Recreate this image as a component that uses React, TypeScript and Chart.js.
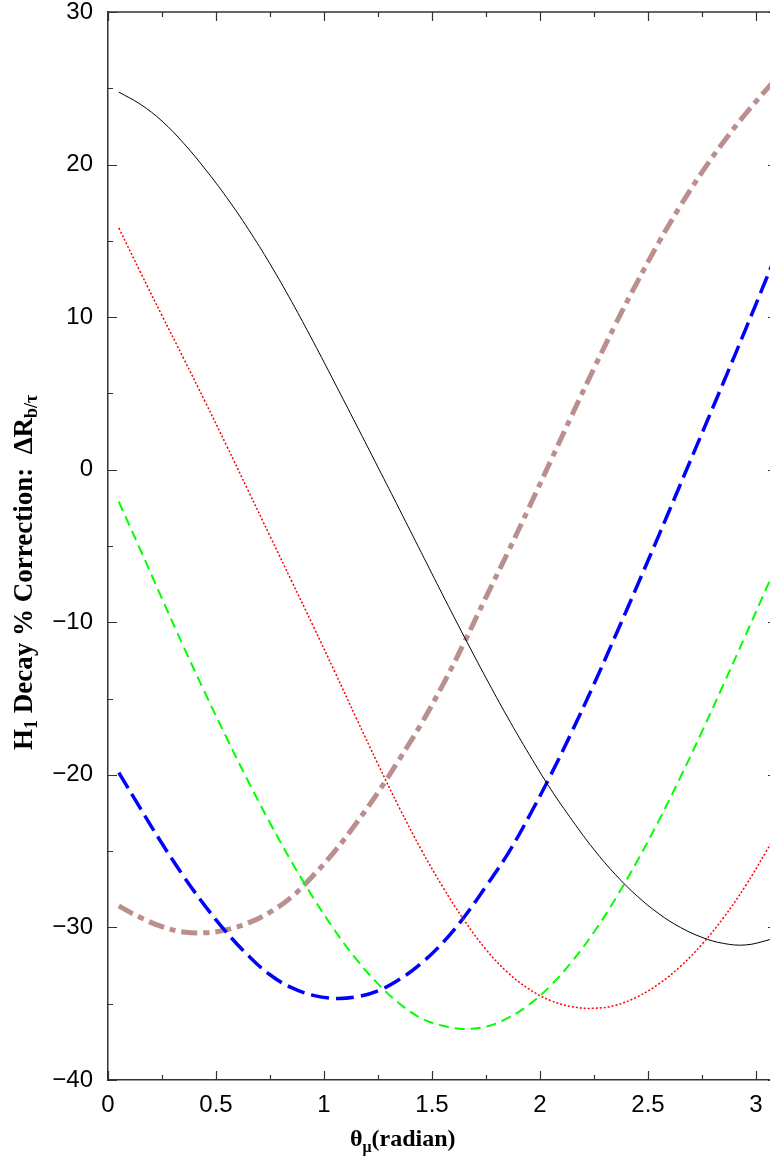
import { useEffect, useRef } from "react";
import { Chart, registerables } from "chart.js";

Chart.register(...registerables);

// theta_mu (radian) sample positions
const thetaValues = [
  0.05, 0.15, 0.25, 0.35, 0.45, 0.55, 0.65, 0.75, 0.85, 0.95,
  1.05, 1.15, 1.25, 1.35, 1.45, 1.55, 1.65, 1.75, 1.85, 1.95,
  2.05, 2.15, 2.25, 2.35, 2.45, 2.55, 2.65, 2.75, 2.85, 2.95,
  3.05, 3.1,
];

// black solid curve
const blackSolid = [
  24.75, 23.95, 22.85, 21.4, 19.7, 17.83, 15.76, 13.49, 11.02, 8.4,
  5.68, 2.93, 0.16, -2.62, -5.42, -8.22, -10.97, -13.65, -16.23, -18.66,
  -20.95, -23.0, -24.9, -26.55, -27.95, -29.1, -30.0, -30.65, -31.05, -31.15,
  -30.85, -30.6,
];

// red dotted curve
const redDotted = [
  15.85, 12.95, 10.1, 7.3, 4.45, 1.55, -1.4, -4.35, -7.3, -10.25,
  -13.25, -16.3, -19.3, -22.2, -24.9, -27.35, -29.55, -31.45, -32.95, -34.05,
  -34.8, -35.2, -35.3, -35.1, -34.55, -33.7, -32.55, -31.1, -29.35, -27.3,
  -24.95, -23.7,
];

// green dashed curve
const greenDashed = [
  -2.1, -5.25, -8.45, -11.6, -14.65, -17.6, -20.45, -23.15, -25.7, -28.05,
  -30.2, -32.1, -33.7, -35.0, -35.95, -36.45, -36.65, -36.5, -35.95, -35.05,
  -33.8, -32.2, -30.3, -28.1, -25.65, -23.0, -20.15, -17.15, -14.05, -10.9,
  -7.7, -6.1,
];

// blue long-dashed curve
const blueLongDashed = [
  -19.85, -22.2, -24.5, -26.65, -28.6, -30.35, -31.85, -33.1, -33.95, -34.45,
  -34.65, -34.55, -34.15, -33.4, -32.35, -31.0, -29.3, -27.3, -25.2, -22.7,
  -20.0, -17.1, -14.05, -10.85, -7.6, -4.3, -0.95, 2.4, 5.75, 9.15,
  12.6, 14.35,
];

// rosy-brown dash-dot curve
const brownDashDot = [
  -28.6, -29.35, -29.95, -30.3, -30.35, -30.15, -29.7, -29.0, -28.0, -26.6,
  -25.0, -23.15, -21.15, -18.95, -16.65, -14.1, -11.3, -8.35, -5.45, -2.45,
  0.6, 3.65, 6.65, 9.55, 12.3, 14.9, 17.3, 19.5, 21.5, 23.3,
  24.95, 25.7,
];

// tick positions
const xMajorTicks = [0, 0.5, 1, 1.5, 2, 2.5, 3];
const xMinorTicks = [0.25, 0.75, 1.25, 1.75, 2.25, 2.75];
const yMajorTicks = [-40, -30, -20, -10, 0, 10, 20, 30];
const yMinorTicks = [-35, -25, -15, -5, 5, 15, 25];

const X_MIN = 0;
const X_MAX = 3.097;
const Y_MIN = -40;
const Y_MAX = 30;

export default function App() {
  const ref = useRef<HTMLCanvasElement>(null);

  useEffect(() => {
    const canvas = ref.current;
    if (!canvas) return;

    const pts = (ys: number[]) => thetaValues.map((x, i) => ({ x, y: ys[i] }));

    const decor = {
      id: "decor",
      afterDraw(chart: any) {
        const { ctx, chartArea } = chart;
        const xs = chart.scales.x;
        const ys = chart.scales.y;
        const { left, right, top, bottom } = chartArea;
        ctx.save();
        ctx.strokeStyle = "#333";
        ctx.lineWidth = 1.5;
        // top and right frame lines
        ctx.beginPath();
        ctx.moveTo(left, top);
        ctx.lineTo(right, top);
        ctx.lineTo(right, bottom);
        ctx.stroke();

        ctx.lineWidth = 1.2;
        ctx.beginPath();
        const xt = (vals: number[], len: number) => {
          vals.forEach((v) => {
            const px = Math.round(xs.getPixelForValue(v)) + 0.5;
            ctx.moveTo(px, bottom);
            ctx.lineTo(px, bottom - len);
            ctx.moveTo(px, top);
            ctx.lineTo(px, top + len);
          });
        };
        const yt = (vals: number[], len: number) => {
          vals.forEach((v) => {
            const py = Math.round(ys.getPixelForValue(v)) + 0.5;
            ctx.moveTo(left, py);
            ctx.lineTo(left + len, py);
            ctx.moveTo(right, py);
            ctx.lineTo(right - len, py);
          });
        };
        xt(xMajorTicks, 9);
        xt(xMinorTicks, 5);
        yt(yMajorTicks, 9);
        yt(yMinorTicks, 5);
        ctx.stroke();

        // x-axis title: θμ(radian)
        ctx.fillStyle = "#000";
        ctx.textBaseline = "alphabetic";
        ctx.textAlign = "left";
        const serifMain = 'bold 24px "Liberation Serif", "DejaVu Serif", serif';
        const serifSub = 'bold 16px "Liberation Serif", "DejaVu Serif", serif';
        let x = 350;
        const by = 1146;
        ctx.font = serifMain;
        ctx.fillText("θ", x, by);
        x += ctx.measureText("θ").width;
        ctx.font = serifSub;
        ctx.fillText("μ", x, by + 6);
        x += ctx.measureText("μ").width;
        ctx.font = serifMain;
        ctx.fillText("(radian)", x, by);

        // y-axis title (rotated)
        const yMain = 'bold 27px "Liberation Serif", "DejaVu Serif", serif';
        const ySub = 'bold 18px "Liberation Serif", "DejaVu Serif", serif';
        const runs: [string, boolean][] = [
          ["H", false],
          ["1", true],
          [" Decay % Correction:  ", false],
          ["ΔR", false],
          ["b/τ", true],
        ];
        ctx.translate(32, 750);
        ctx.rotate(-Math.PI / 2);
        let lx = 0;
        runs.forEach(([t, sub]) => {
          ctx.font = sub ? ySub : yMain;
          ctx.fillText(t, lx, sub ? 5 : 0);
          lx += ctx.measureText(t).width;
        });
        ctx.restore();
      },
    };

    const tickFont = {
      family: '"Liberation Sans", Arial, sans-serif',
      size: 24,
      lineHeight: 1,
    };

    const zeroPad = (s: any) => {
      s.paddingTop = 0;
      s.paddingBottom = 0;
      s.paddingLeft = 0;
      s.paddingRight = 0;
    };

    const chart = new Chart(canvas, {
      type: "line",
      data: {
        datasets: [
          {
            label: "black",
            data: pts(blackSolid),
            borderColor: "#000000",
            borderWidth: 1,
            pointRadius: 0,
            tension: 0.4,
            fill: false,
          },
          {
            label: "red",
            data: pts(redDotted),
            borderColor: "#ff0000",
            borderWidth: 1.5,
            borderDash: [2, 2],
            pointRadius: 0,
            tension: 0.4,
            fill: false,
          },
          {
            label: "green",
            data: pts(greenDashed),
            borderColor: "#00ff00",
            borderWidth: 2,
            borderDash: [10, 6],
            pointRadius: 0,
            tension: 0.4,
            fill: false,
          },
          {
            label: "blue",
            data: pts(blueLongDashed),
            borderColor: "#0000ff",
            borderWidth: 3.5,
            borderDash: [18, 7],
            pointRadius: 0,
            tension: 0.4,
            fill: false,
          },
          {
            label: "brown",
            data: pts(brownDashDot),
            borderColor: "#bc8f8f",
            borderWidth: 5,
            borderDash: [16, 6, 6, 6],
            pointRadius: 0,
            tension: 0.4,
            fill: false,
          },
        ] as any,
      },
      options: {
        responsive: false,
        animation: false,
        devicePixelRatio: 1,
        layout: { padding: { top: 12, right: 9, left: 0, bottom: 0 } },
        plugins: {
          legend: { display: false },
          tooltip: { enabled: false },
        },
        scales: {
          x: {
            type: "linear",
            position: "bottom",
            min: X_MIN,
            max: X_MAX,
            grid: { display: false, drawTicks: false, tickLength: 0 },
            border: { display: true, color: "#333", width: 1.5 },
            ticks: {
              stepSize: 0.5,
              includeBounds: false,
              autoSkip: false,
              maxRotation: 0,
              padding: 13,
              color: "#000",
              font: tickFont,
              callback: (v: any) => String(Number(v)),
            },
            afterFit: (s: any) => {
              s.height = 91;
              zeroPad(s);
            },
          },
          y: {
            type: "linear",
            position: "left",
            min: Y_MIN,
            max: Y_MAX,
            grid: { display: false, drawTicks: false, tickLength: 0 },
            border: { display: true, color: "#333", width: 1.5 },
            ticks: {
              stepSize: 10,
              autoSkip: false,
              padding: 15,
              color: "#000",
              font: tickFont,
              callback: (v: any) => {
                const n = Number(v);
                return n < 0 ? "\u2212" + Math.abs(n) : String(n);
              },
            },
            afterFit: (s: any) => {
              s.width = 108;
              zeroPad(s);
            },
          },
        },
      } as any,
      plugins: [decor],
    });

    return () => chart.destroy();
  }, []);

  return (
    <div
      style={{
        position: "absolute",
        left: 0,
        top: 0,
        width: 770,
        height: 1171,
        overflow: "hidden",
        background: "#fff",
      }}
    >
      <canvas
        ref={ref}
        width={786}
        height={1171}
        style={{ display: "block", width: 786, height: 1171 }}
      />
    </div>
  );
}
